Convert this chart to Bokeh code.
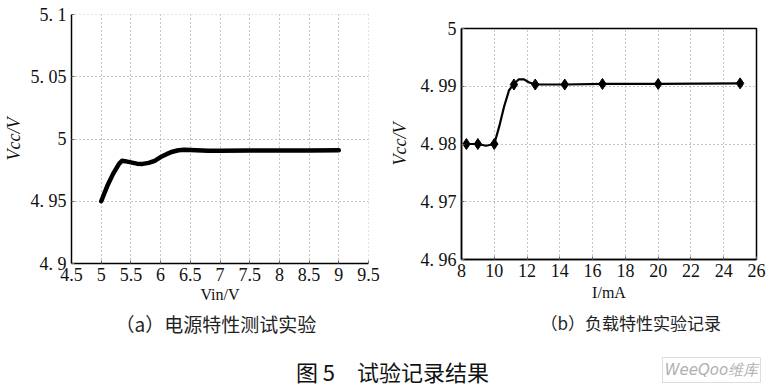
from bokeh.plotting import figure
from bokeh.layouts import row, column
from bokeh.models import (FixedTicker, CustomJSTickFormatter, Label, Range1d, Title, Span)
from bokeh.embed import file_html
from bokeh.resources import INLINE

# ---------------- data ----------------
# (a) supply characteristic: Vin (V) vs Vcc (V)
vin = [5.0, 5.1, 5.2, 5.3, 5.35, 5.4, 5.5, 5.6, 5.7, 5.8, 5.9, 6.0, 6.1, 6.2, 6.3,
       6.4, 6.5, 6.8, 7.0, 7.5, 8.0, 8.5, 9.0]
vcc_a = [4.950, 4.962, 4.972, 4.980, 4.9825, 4.9822, 4.9812, 4.9802, 4.9800, 4.9808,
         4.9825, 4.9855, 4.9878, 4.9898, 4.9910, 4.9913, 4.9912, 4.9906, 4.9906,
         4.9907, 4.9907, 4.9908, 4.9910]
xticks_a = [4.5, 5, 5.5, 6, 6.5, 7, 7.5, 8, 8.5, 9, 9.5]
yticks_a = [4.9, 4.95, 5.0, 5.05, 5.1]

# (b) load characteristic: I (mA) vs Vcc (V)
i_pts = [8.3, 9.0, 10.0, 11.2, 12.5, 14.3, 16.6, 20.0, 25.0]
vcc_pts = [4.980, 4.980, 4.980, 4.9903, 4.9903, 4.9903, 4.9904, 4.9904, 4.9905]
i_curve = [8.3, 9.0, 9.5, 10.0, 10.3, 10.6, 10.9, 11.2, 11.5, 11.8, 12.1, 12.5,
           14.3, 16.6, 20.0, 25.0]
vcc_curve = [4.980, 4.980, 4.9797, 4.9800, 4.9830, 4.9865, 4.9893, 4.9904, 4.9912,
             4.9912, 4.9907, 4.9903, 4.9903, 4.9904, 4.9904, 4.9905]
xticks_b = [8, 10, 12, 14, 16, 18, 20, 22, 24, 26]
yticks_b = [4.96, 4.97, 4.98, 4.99, 5.0]

title_a = "（a）电源特性测试实验"
title_b = "（b）负载特性实验记录"
xlabel_a = "Vin/V"
xlabel_b = "I/mA"
ylabel = "Vcc/V"
fig_caption = "图 5　试验记录结果"
watermark = "WeeQoo维库"

SERIF = "Liberation Serif"
CJK = "Noto Sans CJK SC"
GRID = "#8a8a8a"

fmt = CustomJSTickFormatter(code="""
var s = (Math.round(tick*100)/100).toString();
return s.replace('.', '. ');
""")


def style(p, xt, yt, yfmt):
    p.xaxis.ticker = FixedTicker(ticks=xt)
    p.yaxis.ticker = FixedTicker(ticks=yt)
    p.yaxis.formatter = yfmt
    for ax in (p.xaxis[0], p.yaxis[0]):
        ax.axis_line_color = "black"
        ax.axis_line_width = 1.5
        ax.major_tick_in = 3
        ax.major_tick_out = 0
        ax.major_tick_line_color = "#666666"
        ax.minor_tick_line_color = None
        ax.major_label_text_font = SERIF
        ax.major_label_text_font_size = "18px"
        ax.major_label_text_color = "#111111"
        ax.axis_label_text_font = SERIF
        ax.axis_label_text_color = "#111111"
    p.xaxis.major_label_standoff = 4
    p.yaxis.major_label_standoff = 5
    p.xaxis.axis_label_text_font_size = "16px"
    p.xaxis.axis_label_text_font_style = "normal"
    p.xaxis.axis_label_standoff = 2
    p.yaxis.axis_label_text_font_size = "18px"
    p.yaxis.axis_label_text_font_style = "italic"
    p.xgrid.ticker = FixedTicker(ticks=xt)
    p.ygrid.ticker = FixedTicker(ticks=yt)
    for g in (p.xgrid[0], p.ygrid[0]):
        g.grid_line_color = GRID
        g.grid_line_dash = "1 3"
        g.grid_line_width = 1
    p.background_fill_color = "white"
    p.border_fill_color = "white"


# ---------------- (a) ----------------
p1 = figure(width=380, height=345, output_backend="svg", toolbar_location=None,
            x_range=Range1d(4.5, 9.5), y_range=Range1d(4.9, 5.1),
            min_border_left=68, min_border_right=12, min_border_top=14, min_border_bottom=82)
style(p1, xticks_a, yticks_a, fmt)
p1.outline_line_color = None
p1.xaxis.axis_label = xlabel_a
p1.yaxis.axis_label = ylabel
p1.yaxis.axis_label_standoff = 4
p1.add_layout(Span(location=yticks_a[-1], dimension="width", line_color=GRID,
                   line_dash="1 3", line_width=1))
p1.add_layout(Span(location=xticks_a[-1], dimension="height", line_color=GRID,
                   line_dash="1 3", line_width=1))
p1.line(vin, vcc_a, line_color="black", line_width=4.5, line_join="round", line_cap="round")
p1.add_layout(Title(text=title_a, align="left", offset=44, standoff=5, text_font=CJK,
                    text_font_size="19px", text_font_style="normal", text_color="#222222"),
              "below")

# ---------------- (b) ----------------
p2 = figure(width=389, height=345, output_backend="svg", toolbar_location=None,
            x_range=Range1d(8, 26), y_range=Range1d(4.96, 5.0),
            min_border_left=81, min_border_right=13, min_border_top=28, min_border_bottom=86)
style(p2, xticks_b, yticks_b, fmt)
p2.outline_line_color = "black"
p2.outline_line_width = 1.5
p2.xaxis.axis_label = xlabel_b
p2.xaxis.axis_label_standoff = 4
p2.yaxis.axis_label = ylabel
p2.yaxis.axis_label_standoff = 8
p2.line(i_curve, vcc_curve, line_color="black", line_width=2.2, line_join="round")
p2.scatter(i_pts, vcc_pts, marker="diamond", size=11, color="black")
p2.add_layout(Title(text=title_b, align="left", offset=79, standoff=9, text_font=CJK,
                    text_font_size="17px", text_font_style="normal", text_color="#222222"),
              "below")

# ---------------- caption strip ----------------
p3 = figure(width=769, height=42, output_backend="svg", toolbar_location=None,
            x_range=Range1d(0, 769), y_range=Range1d(0, 42),
            min_border=0, x_axis_type=None, y_axis_type=None)
p3.outline_line_color = None
p3.xgrid.visible = False
p3.ygrid.visible = False
p3.border_fill_color = "white"
p3.add_layout(Label(x=392, y=17, text=fig_caption, text_font=CJK, text_font_size="22px",
                    text_align="center", text_baseline="middle", text_color="#111111"))
p3.quad(left=[662], right=[760], bottom=[5], top=[30], fill_color="white",
        line_color="#dddddd", line_width=1)
p3.add_layout(Label(x=711, y=18, text=watermark, text_font="DejaVu Sans", text_font_size="15px",
                    text_font_style="italic", text_align="center", text_baseline="middle",
                    text_color="#b0b0b0"))

layout = column(row(column(p1), column(p2)), p3)
open("out.html", "w").write(file_html(layout, INLINE))
